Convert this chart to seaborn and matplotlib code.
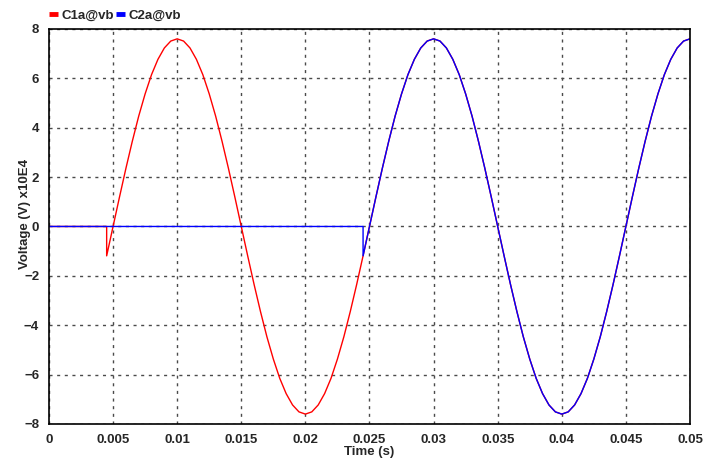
import matplotlib
matplotlib.use("Agg")
import matplotlib.pyplot as plt
import seaborn as sns
import pandas as pd

# ---- data (voltage in units of 1E4 V) ----
c1a_time = [0.0, 0.0045,
            0.0045, 0.0050, 0.0055, 0.0060, 0.0065, 0.0070, 0.0075, 0.0080, 0.0085, 0.0090, 0.0095,
            0.0100, 0.0105, 0.0110, 0.0115, 0.0120, 0.0125, 0.0130, 0.0135, 0.0140, 0.0145,
            0.0150, 0.0155, 0.0160, 0.0165, 0.0170, 0.0175, 0.0180, 0.0185, 0.0190, 0.0195,
            0.0200, 0.0205, 0.0210, 0.0215, 0.0220, 0.0225, 0.0230, 0.0235, 0.0240, 0.0245,
            0.0250, 0.0255, 0.0260, 0.0265, 0.0270, 0.0275, 0.0280, 0.0285, 0.0290, 0.0295,
            0.0300, 0.0305, 0.0310, 0.0315, 0.0320, 0.0325, 0.0330, 0.0335, 0.0340, 0.0345,
            0.0350, 0.0355, 0.0360, 0.0365, 0.0370, 0.0375, 0.0380, 0.0385, 0.0390, 0.0395,
            0.0400, 0.0405, 0.0410, 0.0415, 0.0420, 0.0425, 0.0430, 0.0435, 0.0440, 0.0445,
            0.0450, 0.0455, 0.0460, 0.0465, 0.0470, 0.0475, 0.0480, 0.0485, 0.0490, 0.0495,
            0.0500]
c1a_volt = [0.0, 0.0,
            -1.19, 0.00, 1.19, 2.35, 3.45, 4.47, 5.37, 6.15, 6.77, 7.23, 7.51,
            7.60, 7.51, 7.23, 6.77, 6.15, 5.37, 4.47, 3.45, 2.35, 1.19,
            0.00, -1.19, -2.35, -3.45, -4.47, -5.37, -6.15, -6.77, -7.23, -7.51,
            -7.60, -7.51, -7.23, -6.77, -6.15, -5.37, -4.47, -3.45, -2.35, -1.19,
            0.00, 1.19, 2.35, 3.45, 4.47, 5.37, 6.15, 6.77, 7.23, 7.51,
            7.60, 7.51, 7.23, 6.77, 6.15, 5.37, 4.47, 3.45, 2.35, 1.19,
            0.00, -1.19, -2.35, -3.45, -4.47, -5.37, -6.15, -6.77, -7.23, -7.51,
            -7.60, -7.51, -7.23, -6.77, -6.15, -5.37, -4.47, -3.45, -2.35, -1.19,
            0.00, 1.19, 2.35, 3.45, 4.47, 5.37, 6.15, 6.77, 7.23, 7.51,
            7.60]

c2a_time = [0.0, 0.0245,
            0.0245,
            0.0250, 0.0255, 0.0260, 0.0265, 0.0270, 0.0275, 0.0280, 0.0285, 0.0290, 0.0295,
            0.0300, 0.0305, 0.0310, 0.0315, 0.0320, 0.0325, 0.0330, 0.0335, 0.0340, 0.0345,
            0.0350, 0.0355, 0.0360, 0.0365, 0.0370, 0.0375, 0.0380, 0.0385, 0.0390, 0.0395,
            0.0400, 0.0405, 0.0410, 0.0415, 0.0420, 0.0425, 0.0430, 0.0435, 0.0440, 0.0445,
            0.0450, 0.0455, 0.0460, 0.0465, 0.0470, 0.0475, 0.0480, 0.0485, 0.0490, 0.0495,
            0.0500]
c2a_volt = [0.0, 0.0,
            -1.19,
            0.00, 1.19, 2.35, 3.45, 4.47, 5.37, 6.15, 6.77, 7.23, 7.51,
            7.60, 7.51, 7.23, 6.77, 6.15, 5.37, 4.47, 3.45, 2.35, 1.19,
            0.00, -1.19, -2.35, -3.45, -4.47, -5.37, -6.15, -6.77, -7.23, -7.51,
            -7.60, -7.51, -7.23, -6.77, -6.15, -5.37, -4.47, -3.45, -2.35, -1.19,
            0.00, 1.19, 2.35, 3.45, 4.47, 5.37, 6.15, 6.77, 7.23, 7.51,
            7.60]

series_names = ["C1a@vb", "C2a@vb"]
series_colors = ["#ff0000", "#0000ff"]
x_ticks = [0, 0.005, 0.01, 0.015, 0.02, 0.025, 0.03, 0.035, 0.04, 0.045, 0.05]
x_tick_labels = ["0", "0.005", "0.01", "0.015", "0.02", "0.025", "0.03", "0.035", "0.04", "0.045", "0.05"]
y_ticks = [-8, -6, -4, -2, 0, 2, 4, 6, 8]

df1 = pd.DataFrame({"t": c1a_time, "v": c1a_volt, "series": series_names[0]})
df2 = pd.DataFrame({"t": c2a_time, "v": c2a_volt, "series": series_names[1]})

sns.set_theme(style="white")
plt.rcParams["font.family"] = ["Liberation Sans", "DejaVu Sans"]

fig = plt.figure(figsize=(7.18, 4.59), dpi=100)
ax = fig.add_axes([0.0682, 0.0763, 0.8928, 0.8606])

sns.lineplot(data=df1, x="t", y="v", color=series_colors[0], sort=False,
             estimator=None, lw=1.0, ax=ax, label=series_names[0])
sns.lineplot(data=df2, x="t", y="v", color=series_colors[1], sort=False,
             estimator=None, lw=1.0, ax=ax, label=series_names[1])

ax.set_xlim(0, 0.05)
ax.set_ylim(-8, 8)
ax.set_xticks(x_ticks)
ax.set_xticklabels(x_tick_labels)
ax.set_yticks(y_ticks)
ax.grid(True, color="#4a4a4a", linestyle=(0, (2.2, 3.3)), linewidth=1.0)
ax.set_axisbelow(True)
for s in ax.spines.values():
    s.set_visible(True)
    s.set_color("black")
    s.set_linewidth(1.2)
ax.tick_params(axis="both", which="major", direction="out", length=4, width=1,
               color="black", labelsize=9.5, pad=3)
for lab in ax.get_xticklabels() + ax.get_yticklabels():
    lab.set_fontweight("bold")
ax.set_xlabel("Time (s)", fontsize=9.5, fontweight="bold", labelpad=0)
ax.set_ylabel("Voltage (V) x10E4", fontsize=9.5, fontweight="bold")
ax.yaxis.set_label_coords(-0.028, 0.532)

ax.legend_.remove()
h, l = ax.get_legend_handles_labels()
leg = fig.legend(h, l, loc="upper left", bbox_to_anchor=(0.0515, 1.006), ncol=2,
                 frameon=False, handlelength=0.7, handletextpad=0.25,
                 columnspacing=0.15, prop={"weight": "bold", "size": 9.5})
for line in leg.get_lines():
    line.set_linewidth(3.5)
    line.set_solid_capstyle("butt")

fig.savefig("out.png", dpi=100)
